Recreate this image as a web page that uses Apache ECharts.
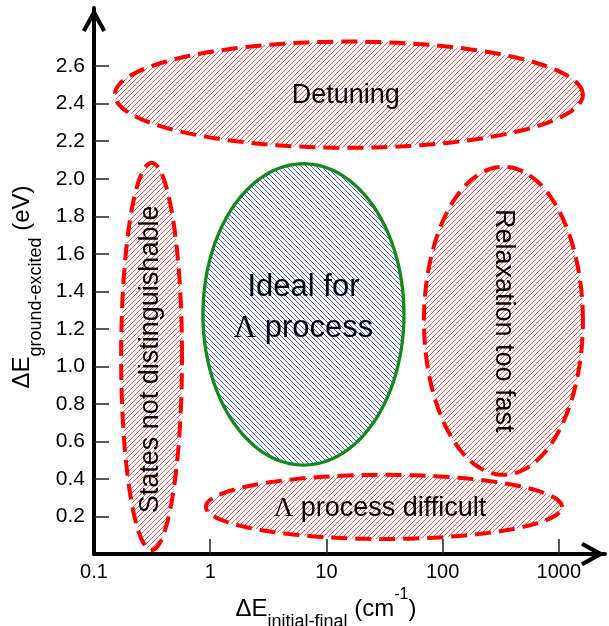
<!DOCTYPE html>
<html><head><meta charset="utf-8">
<script src="https://cdn.jsdelivr.net/npm/echarts@6/dist/echarts.min.js"></script>
<style>html,body{margin:0;padding:0;background:#fff}#c{width:609px;height:626px}</style>
</head><body><div id="c"></div>
<script>
// ---- data ----
const regionNames = ['Detuning', 'States not distinguishable', 'Ideal for\n{l|Λ} process', 'Relaxation too fast', '{l|Λ} process difficult'];
const regionCenterX = [15.6, 0.313, 6.35, 334, 31.3];          // ΔE initial-final (cm^-1)
const regionCenterY = [2.448, 1.053, 1.277, 1.243, 0.251];     // ΔE ground-excited (eV)
const regionHalfWidthDecades = [2.014, 0.262, 0.865, 0.684, 1.532];
const regionHalfHeight = [0.283, 1.032, 0.803, 0.821, 0.171];
const regionIdeal = [false, false, true, false, false];
const xTickValues = [1, 10, 100, 1000];
const xLabelValues = [0.1, 1, 10, 100, 1000];
const yTickValues = [0.2, 0.4, 0.6, 0.8, 1.0, 1.2, 1.4, 1.6, 1.8, 2.0, 2.2, 2.4, 2.6];

// ---- styles ----
const labelRotationDeg = [0, 90, 0, -90, 0];
const labelFontSize = [27, 27, 31, 27, 27];
const labelDy = [1, 3, -6, 0, 2];
const labelDx = [-3, -1, 0, 0, -4];

function hatch(color, up, size) {
  const c = document.createElement('canvas');
  c.width = size; c.height = size;
  const g = c.getContext('2d');
  g.strokeStyle = color; g.lineWidth = 1;
  g.beginPath();
  for (let k = -1; k <= 1; k++) {
    if (up) { g.moveTo(k * size - 1, size + 1); g.lineTo(k * size + size + 1, -1); }
    else { g.moveTo(k * size - 1, -1); g.lineTo(k * size + size + 1, size + 1); }
  }
  g.stroke();
  return c;
}
const redHatch = hatch('#ff5050', true, 5);
const blueHatch = hatch('#4455ff', false, 5);

const arrowPath = 'path://M12 0 L24 22 L20.5 24 L12 9 L3.5 24 L0 22 Z';
const font = 'Liberation Sans, Arial, sans-serif';

const chart = echarts.init(document.getElementById('c'), null, {renderer: 'canvas'});
chart.setOption({
  animation: false,
  backgroundColor: '#fff',
  grid: {left: 94, right: 4, top: 8, bottom: 72, containLabel: false, outerBoundsMode: 'none'},
  xAxis: {
    type: 'log', logBase: 10, min: 0.1, max: 2500,
    name: '{m|ΔE}{s|initial-final}{m| (cm}{p|-1}{m|)}',
    nameLocation: 'middle', nameGap: 29,
    nameTextStyle: {
      padding: [0, 47, 0, 0],
      rich: {
        m: {fontFamily: font, fontSize: 24, color: '#000', lineHeight: 44, verticalAlign: 'middle'},
        s: {fontFamily: font, fontSize: 18, color: '#000', lineHeight: 17, verticalAlign: 'bottom'},
        p: {fontFamily: font, fontSize: 16, color: '#000', lineHeight: 16, verticalAlign: 'top'}
      }
    },
    axisLine: {show: true, lineStyle: {color: '#000', width: 4},
      symbol: ['none', arrowPath], symbolSize: [24, 24], symbolOffset: [0, -12]},
    axisTick: {show: true, inside: true, length: 15, customValues: xTickValues,
      lineStyle: {color: '#222', width: 1.5}},
    axisLabel: {show: true, customValues: xLabelValues, margin: 8,
      fontFamily: font, fontSize: 20, color: '#000',
      formatter: v => String(v)},
    splitLine: {show: false}, minorTick: {show: false}
  },
  yAxis: {
    type: 'value', min: 0, max: 2.91, interval: 0.2,
    name: '{m|ΔE}{s|ground-excited}{m| (eV)}',
    nameLocation: 'middle', nameGap: 45, nameRotate: 90,
    nameTextStyle: {
      padding: [0, 12, 0, 0],
      rich: {
        m: {fontFamily: font, fontSize: 24, color: '#000', lineHeight: 46, verticalAlign: 'middle'},
        s: {fontFamily: font, fontSize: 18, color: '#000', lineHeight: 17, verticalAlign: 'bottom'}
      }
    },
    axisLine: {show: true, lineStyle: {color: '#000', width: 4},
      symbol: ['none', arrowPath], symbolSize: [24, 24], symbolOffset: [0, -12]},
    axisTick: {show: true, inside: true, length: 15, customValues: yTickValues,
      lineStyle: {color: '#222', width: 1.5}},
    axisLabel: {show: true, customValues: yTickValues, margin: 9,
      fontFamily: font, fontSize: 21, color: '#000',
      formatter: v => Number(v).toFixed(1)},
    splitLine: {show: false}
  },
  series: [{
    type: 'custom',
    coordinateSystem: 'cartesian2d',
    clip: false,
    data: regionCenterX.map((x, i) => [x, regionCenterY[i]]),
    renderItem: function (params, api) {
      const i = params.dataIndex;
      const cx = regionCenterX[i], cy = regionCenterY[i];
      const rx = regionHalfWidthDecades[i], ry = regionHalfHeight[i];
      const pts = [];
      const N = 180;
      for (let k = 0; k < N; k++) {
        const t = 2 * Math.PI * k / N;
        pts.push(api.coord([cx * Math.pow(10, rx * Math.cos(t)), cy + ry * Math.sin(t)]));
      }
      const c = api.coord([cx, cy]);
      const ideal = regionIdeal[i];
      return {
        type: 'group',
        children: [{
          type: 'polygon',
          shape: {points: pts},
          style: ideal
            ? {fill: {image: blueHatch, repeat: 'repeat'}, stroke: '#138a13', lineWidth: 3.3}
            : {fill: {image: redHatch, repeat: 'repeat'}, stroke: '#ff0000', lineWidth: 4, lineDash: [16, 8]}
        }, {
          type: 'text',
          x: c[0] + labelDx[i], y: c[1] + labelDy[i],
          rotation: labelRotationDeg[i] * Math.PI / 180,
          style: {
            text: regionNames[i],
            fontFamily: font, fontSize: labelFontSize[i], fill: '#000',
            align: 'center', verticalAlign: 'middle',
            lineHeight: 41,
            rich: {l: {fontFamily: 'Liberation Serif, Times New Roman, serif', fontSize: labelFontSize[i], lineHeight: 41}}
          }
        }]
      };
    }
  }]
});
</script>
</body></html>
